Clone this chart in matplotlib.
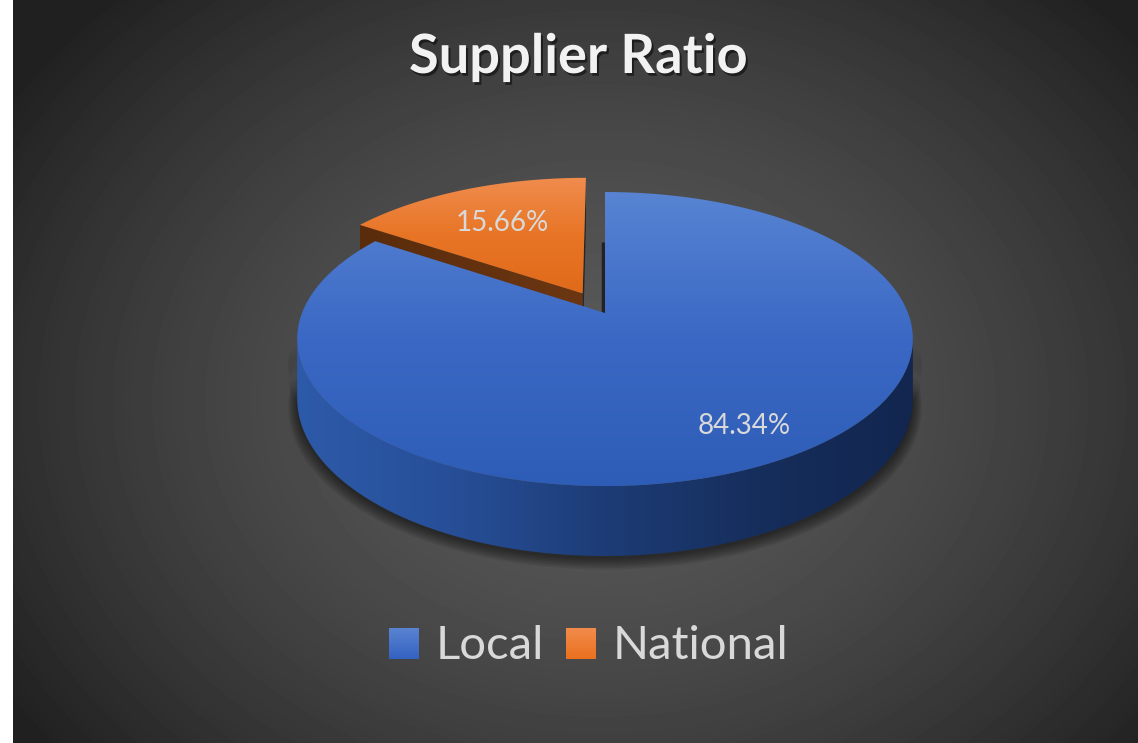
import numpy as np
import matplotlib
matplotlib.use('Agg')
import matplotlib.pyplot as plt
import matplotlib.patheffects as pe
from matplotlib.patches import Polygon
from matplotlib.colors import LinearSegmentedColormap

# Data
labels = ['Local', 'National']
values = [84.34, 15.66]
explode = [0.0, 0.16]
label_r = [0.79, 0.65]

W, H = 1138, 743
fig = plt.figure(figsize=(W / 100, H / 100), dpi=100, facecolor='white')
ax = fig.add_axes([0, 0, 1, 1])
ax.axis('off')

# background radial gradient (chart area starts at x=13)
yy, xx = np.mgrid[0:H, 13:W]
r = np.clip(np.hypot((xx - 600) / 700, (yy - 400) / 560), 0, 1)
bg = 0.35 - 0.22 * r ** 1.6
ax.imshow(bg, extent=[13, W, H, 0], cmap='gray', vmin=0, vmax=1,
          aspect='auto', zorder=0, interpolation='bilinear')

# projection of the pie disc (u right, v toward viewer), with perspective
X0, Y0, A, B, k, D = 605, 313, 303, 142.4, 0.177, 57.6


def proj(u, v, z=0.0):
    w = 1 - k * v
    return X0 + A * u / w, Y0 + (B * v + z * D) / w


def grad_fill(xy, colors, horizontal=False, z=1):
    patch = Polygon(xy, closed=True, facecolor='none', edgecolor='none')
    ax.add_patch(patch)
    xmin, ymin = xy.min(axis=0)
    xmax, ymax = xy.max(axis=0)
    g = np.linspace(0, 1, 256)
    g = g.reshape(1, -1) if horizontal else g.reshape(-1, 1)
    cmap = LinearSegmentedColormap.from_list('g', colors)
    im = ax.imshow(g, extent=[xmin, xmax, ymax, ymin], cmap=cmap,
                   aspect='auto', zorder=z, interpolation='bilinear')
    im.set_clip_path(patch)


fracs = np.array(values) / sum(values)
starts = np.concatenate([[0], np.cumsum(fracs)[:-1]]) * 360
ends = starts + fracs * 360
th_sil = np.degrees(np.arccos(-k))  # angles of the side silhouettes

# soft shadow under the front wall only
tw = np.radians(np.linspace(th_sil - 5, 365 - th_sil, 300))
for i in range(8):
    s = 1 + 0.004 * i
    tx, ty = proj(np.sin(tw) * s, -np.cos(tw) * s, 0.3)
    bx, by = proj(np.sin(tw) * s, -np.cos(tw) * s, 1.0)
    sx = np.concatenate([tx, bx[::-1]])
    sy = np.concatenate([ty, by[::-1]]) + 3 + i * 0.6
    ax.fill(sx, sy, color='black', alpha=0.07, lw=0, zorder=1)

top_cols = [['#5884d3', '#3a68c4', '#2e5db7'], ['#f08c4e', '#e87526', '#df6a1a']]
wall_cols = ['#2d5aa9', '#274f98', '#1d3c76', '#162e5c', '#12264f']

for i in [1, 0]:
    s, e = starts[i], ends[i]
    mid = np.radians((s + e) / 2)
    du, dv = explode[i] * np.sin(mid), -explode[i] * np.cos(mid)
    z0 = 4 if i == 0 else 2
    t = np.radians(np.linspace(s, e, 300))
    # side faces
    if i == 1:
        # radial cut face at start angle
        us, vs = du + np.sin(t[0]), dv - np.cos(t[0])
        p = [proj(du, dv, 0), proj(us, vs, 0), proj(us, vs, 1), proj(du, dv, 1)]
        grad_fill(np.array(p), ['#5a2c0b', '#6c3612'], horizontal=True, z=z0)
        # thin face at end angle
        ue, ve = du + np.sin(t[-1]), dv - np.cos(t[-1])
        p = [proj(du, dv, 0), proj(ue, ve, 0), proj(ue, ve, 1), proj(du, dv, 1)]
        ax.add_patch(Polygon(p, closed=True, fc='#262626', ec='none', zorder=z0))
    else:
        # edge-on face at 12 o'clock, seen as a dark line
        ax_, ay_ = proj(0, 0, 0)
        bx_, by_ = proj(0, -0.55, 0)
        ax.plot([ax_ - 1.5, bx_ - 1.5], [ay_, by_], color='#222222', lw=2.5,
                solid_capstyle='butt', zorder=z0)
    a0, a1 = max(s, th_sil), min(e, 360 - th_sil)
    if a1 > a0:
        tw = np.radians(np.linspace(a0, a1, 300))
        uw, vw = du + np.sin(tw), dv - np.cos(tw)
        tx, ty = proj(uw, vw, 0)
        bx, by = proj(uw, vw, 1)
        xy = np.column_stack([np.concatenate([tx, bx[::-1]]),
                              np.concatenate([ty, by[::-1]])])
        grad_fill(xy, wall_cols, horizontal=True, z=z0 + 0.5)
    # top face
    ux, vx = du + np.sin(t), dv - np.cos(t)
    px, py = proj(ux, vx, 0)
    ax0, ay0 = proj(du, dv, 0)
    xy = np.column_stack([np.concatenate([[ax0], px]), np.concatenate([[ay0], py])])
    grad_fill(xy, top_cols[i], z=z0 + 1)
    # data label
    rr = explode[i] + label_r[i]
    lx, ly = proj(rr * np.sin(mid), -rr * np.cos(mid), 0)
    if i == 0:
        lx += 10
    ax.text(lx, ly, f'{values[i]:.2f}%', ha='center', va='center', fontsize=20,
            family='Lato', color='#d9d9d9', zorder=10)

# title
ax.text(578, 73, 'Supplier Ratio', ha='center', va='baseline', fontsize=39,
        fontweight='bold', family='Lato', color='#f2f2f2', zorder=10,
        path_effects=[pe.SimplePatchShadow(offset=(1.5, -2), shadow_rgbFace='black', alpha=0.5),
                      pe.Normal()])

# legend
leg_x = [389, 566]
leg_cols = [['#5a84d2', '#3462c1'], ['#f28c4c', '#ea701e']]
for i, name in enumerate(labels):
    x = leg_x[i]
    sq = np.array([[x, 628], [x + 30, 628], [x + 30, 659], [x, 659]], dtype=float)
    grad_fill(sq, leg_cols[i], z=10)
    ax.text(x + 47, 659, name, ha='left', va='baseline', fontsize=34,
            family='Lato', color='#d9d9d9', zorder=10)

ax.set_xlim(0, W)
ax.set_ylim(H, 0)
fig.savefig('out.png', dpi=100, facecolor='white')
